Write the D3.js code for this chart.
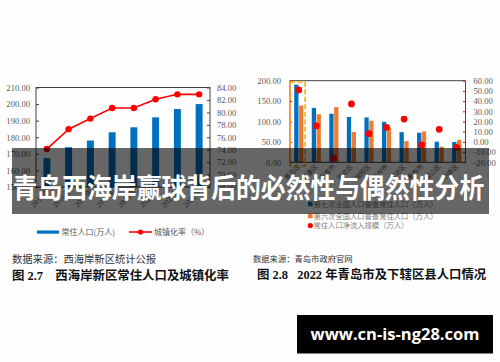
<!DOCTYPE html>
<html>
<head>
<meta charset="utf-8">
<script src="https://cdn.jsdelivr.net/npm/d3@7"></script>
<style>
  html, body { margin: 0; padding: 0; background: #fefefe; }
  svg { display: block; }
</style>
</head>
<body>
<svg width="500" height="362"></svg>
<script>
// ---- left chart data (西海岸新区) ----
const years = ["2015年", "2016年", "2017年", "2018年", "2019年", "2020年", "2021年", "2022年"];
const residentPop = [167.4, 174.0, 178.0, 183.0, 186.0, 192.0, 197.0, 200.0];
const urbanRate = [74.1, 77.3, 79.0, 80.7, 80.7, 82.1, 82.9, 82.9];
const leftTicks = [150, 160, 170, 180, 190, 200, 210];
const rightTicks = [68, 70, 72, 74, 76, 78, 80, 82, 84];

// ---- right chart data (青岛市各区县) ----
const districts = ["黄岛区", "即墨区", "平度市", "市北区", "城阳区", "胶州市", "李沧区", "莱西市", "崂山区", "市南区"];
const census7 = [190.3, 133.4, 119.0, 111.0, 110.0, 99.2, 74.0, 72.4, 50.6, 49.8];
const census6 = [139.2, 117.8, 135.4, 74.2, 102.0, 85.0, 51.8, 75.6, 38.4, 55.0];
const netInflow = [51.0, 15.8, -16.2, 37.2, 8.1, 14.3, 22.4, -3.0, 12.3, -5.4];
const popTicks = [0, 50, 100, 150, 200];
const flowTicks = [-20, -10, 0, 10, 20, 30, 40, 50, 60];

const BLUE = "#0070c0", ORANGE = "#ed7d31", RED = "#ff0000";
const serif = "'Liberation Serif', 'Noto Sans CJK SC', serif";
const cjk = "'Noto Sans CJK SC', sans-serif";

const svg = d3.select("svg");

function drawLeft() {
  const x = d3.scaleBand().domain(years).range([36, 210]).paddingInner(0.68).paddingOuter(0.34);
  const y = d3.scaleLinear().domain([150, 210]).range([187, 87.5]);
  const y2 = d3.scaleLinear().domain([68, 84]).range([187, 87.5]);
  const g = svg.append("g");

  g.selectAll("rect.bar")
    .data(years)
    .join("rect")
      .attr("class", "bar")
      .attr("x", d => x(d))
      .attr("width", x.bandwidth())
      .attr("y", (d, i) => y(residentPop[i]))
      .attr("height", (d, i) => y(150) - y(residentPop[i]))
      .attr("fill", BLUE);

  // frame
  g.append("rect")
    .attr("x", 36).attr("y", 87.5).attr("width", 174).attr("height", 99.5)
    .attr("fill", "none").attr("stroke", "#404040").attr("stroke-width", 1);

  const yl = g.append("g").attr("transform", "translate(36,0)")
    .call(d3.axisLeft(y).tickValues(leftTicks).tickFormat(d3.format(".2f")).tickSize(-3).tickPadding(6));
  const yr = g.append("g").attr("transform", "translate(210,0)")
    .call(d3.axisRight(y2).tickValues(rightTicks).tickFormat(d3.format(".2f")).tickSize(-3).tickPadding(7));
  [yl, yr].forEach(a => {
    a.select(".domain").remove();
    a.selectAll("line").attr("stroke", "#404040");
    a.selectAll("text").attr("font-family", serif).attr("font-size", 8.6).attr("fill", "#595959");
  });

  g.selectAll("text.xl")
    .data(years)
    .join("text")
      .attr("class", "xl")
      .attr("text-anchor", "end")
      .attr("font-family", serif).attr("font-size", 7.5).attr("fill", "#595959")
      .attr("transform", d => `translate(${x(d) + x.bandwidth() / 2 + 3},${192}) rotate(-45)`)
      .text(d => d);

  const line = d3.line()
    .x((d, i) => x(years[i]) + x.bandwidth() / 2)
    .y(d => y2(d));
  g.append("path")
    .datum(urbanRate)
    .attr("d", line)
    .attr("fill", "none").attr("stroke", RED).attr("stroke-width", 1.6);
  g.selectAll("circle.pt")
    .data(urbanRate)
    .join("circle")
      .attr("class", "pt")
      .attr("cx", (d, i) => x(years[i]) + x.bandwidth() / 2)
      .attr("cy", d => y2(d))
      .attr("r", 3.2)
      .attr("fill", RED);

  // legend
  g.append("rect").attr("x", 37).attr("y", 230.5).attr("width", 22).attr("height", 3.2).attr("fill", BLUE);
  g.append("text").attr("x", 61.5).attr("y", 235).attr("font-family", cjk).attr("font-size", 8)
    .attr("fill", "#595959").text("常住人口(万人)");
  g.append("line").attr("x1", 129).attr("x2", 152).attr("y1", 232).attr("y2", 232)
    .attr("stroke", RED).attr("stroke-width", 1.6);
  g.append("circle").attr("cx", 140.5).attr("cy", 232).attr("r", 2.6).attr("fill", RED);
  g.append("text").attr("x", 154).attr("y", 235).attr("font-family", cjk).attr("font-size", 8)
    .attr("fill", "#595959").text("城镇化率（%）");

  // captions
  g.append("text").attr("x", 12).attr("y", 263).attr("font-family", cjk).attr("font-size", 10.3)
    .attr("fill", "#333").text("数据来源：西海岸新区统计公报");
  g.append("text").attr("x", 12).attr("y", 280).attr("font-family", serif).attr("font-size", 12.4)
    .attr("font-weight", "bold").attr("fill", "#111").attr("xml:space", "preserve")
    .text("图 2.7    西海岸新区常住人口及城镇化率");
}

function drawRight() {
  const x0 = d3.scaleBand().domain(districts).range([290, 465.5]).paddingInner(0.48).paddingOuter(0.24);
  const x1 = d3.scaleBand().domain(["c7", "c6"]).range([0, x0.bandwidth()]).paddingInner(0.12);
  const y = d3.scaleLinear().domain([0, 200]).range([162.3, 80.7]);
  const y2 = d3.scaleLinear().domain([-20, 60]).range([162.3, 80.7]);
  const g = svg.append("g");

  const grp = g.selectAll("g.grp")
    .data(districts)
    .join("g")
      .attr("class", "grp")
      .attr("transform", d => `translate(${x0(d)},0)`);
  grp.append("rect")
    .attr("x", x1("c7")).attr("width", x1.bandwidth())
    .attr("y", (d, i) => y(census7[i])).attr("height", (d, i) => y(0) - y(census7[i]))
    .attr("fill", BLUE);
  grp.append("rect")
    .attr("x", x1("c6")).attr("width", x1.bandwidth())
    .attr("y", (d, i) => y(census6[i])).attr("height", (d, i) => y(0) - y(census6[i]))
    .attr("fill", ORANGE);

  // frame: top + bottom dark, sides red
  g.append("line").attr("x1", 290).attr("x2", 465.5).attr("y1", 80.7).attr("y2", 80.7).attr("stroke", "#404040");
  g.append("line").attr("x1", 290).attr("x2", 465.5).attr("y1", 162.3).attr("y2", 162.3).attr("stroke", "#404040");

  const yl = g.append("g").attr("transform", "translate(290,0)")
    .call(d3.axisLeft(y).tickValues(popTicks).tickFormat(d3.format(".2f")).tickSize(-2).tickPadding(9));
  const yr = g.append("g").attr("transform", "translate(465.5,0)")
    .call(d3.axisRight(y2).tickValues(flowTicks).tickFormat(d3.format(".2f")).tickSize(-2.5).tickPadding(8));
  [yl, yr].forEach(a => {
    a.select(".domain").attr("stroke", RED).attr("d", `M0,${80.7}V${162.3}`);
    a.selectAll("line").attr("stroke", RED);
    a.selectAll("text").attr("font-family", serif).attr("font-size", 8.6).attr("fill", "#595959");
  });
  yr.selectAll("text").text(d => d < 0 ? "-" + d3.format(".2f")(-d) : d3.format(".2f")(d));

  g.selectAll("text.xl")
    .data(districts)
    .join("text")
      .attr("class", "xl")
      .attr("text-anchor", "end")
      .attr("font-family", cjk).attr("font-size", 6.5).attr("fill", "#595959")
      .attr("transform", d => `translate(${x0(d) + x0.bandwidth() / 2 + 2},${167}) rotate(-45)`)
      .text(d => d);

  g.selectAll("circle.dot")
    .data(netInflow)
    .join("circle")
      .attr("class", "dot")
      .attr("cx", (d, i) => x0(districts[i]) + x0.bandwidth() / 2)
      .attr("cy", d => y2(d))
      .attr("r", 3.4)
      .attr("fill", RED);

  // highlight box around the first group
  g.append("rect")
    .attr("x", x0(districts[0]) - 4.2).attr("y", 82)
    .attr("width", x0.bandwidth() + 6).attr("height", 84)
    .attr("fill", "none").attr("stroke", "#f2b200").attr("stroke-width", 1.6)
    .attr("stroke-dasharray", "5,2.5");

  // legend
  const legend = [
    {label: "第七次全国人口普查常住人口（万人）", color: BLUE, shape: "sq", y: 204},
    {label: "第六次全国人口普查常住人口（万人）", color: ORANGE, shape: "sq", y: 216},
    {label: "常住人口净流入规模（万人）", color: RED, shape: "ci", y: 225.5}
  ];
  const lg = g.selectAll("g.lg").data(legend).join("g").attr("class", "lg")
    .attr("transform", d => `translate(308,${d.y})`);
  lg.filter(d => d.shape === "sq").append("rect")
    .attr("x", 0).attr("y", -2.3).attr("width", 4.6).attr("height", 4.6).attr("fill", d => d.color);
  lg.filter(d => d.shape === "ci").append("circle")
    .attr("cx", 2.3).attr("cy", 0).attr("r", 2.6).attr("fill", d => d.color);
  lg.append("text").attr("x", 5.5).attr("y", 2.6)
    .attr("font-family", cjk).attr("font-size", 7.3).attr("fill", "#7f7f7f")
    .text(d => d.label);

  // captions
  g.append("text").attr("x", 253).attr("y", 262).attr("font-family", cjk).attr("font-size", 8.3)
    .attr("fill", "#333").text("数据来源：青岛市政府官网");
  g.append("text").attr("x", 257).attr("y", 279).attr("font-family", serif).attr("font-size", 12.4)
    .attr("font-weight", "bold").attr("fill", "#111").attr("xml:space", "preserve")
    .text("图 2.8   2022 年青岛市及下辖区县人口情况");
}

drawLeft();
drawRight();

// title banner laid over both charts
svg.append("rect").attr("x", 12).attr("y", 148).attr("width", 477).attr("height", 66)
  .attr("fill", "#000").attr("fill-opacity", 0.6);
const title = svg.append("text")
  .attr("dominant-baseline", "central")
  .attr("font-family", cjk).attr("font-weight", "bold").attr("font-size", 23.6)
  .attr("fill", "#fff")
  .text("青岛西海岸赢球背后的必然性与偶然性分析");
const tw = title.node().getComputedTextLength() || 472;
title.attr("transform", `translate(12.5,186) scale(${472 / tw},1.15)`);

// site stamp
svg.append("rect").attr("x", 297).attr("y", 315).attr("width", 196).attr("height", 38.5).attr("fill", "#000");
svg.append("text").attr("x", 395).attr("y", 340).attr("text-anchor", "middle")
  .attr("font-family", "'Open Sans', sans-serif").attr("font-weight", "bold").attr("font-size", 16.5)
  .attr("fill", "#fff")
  .text("www.cn-is-ng28.com");
</script>
</body>
</html>
